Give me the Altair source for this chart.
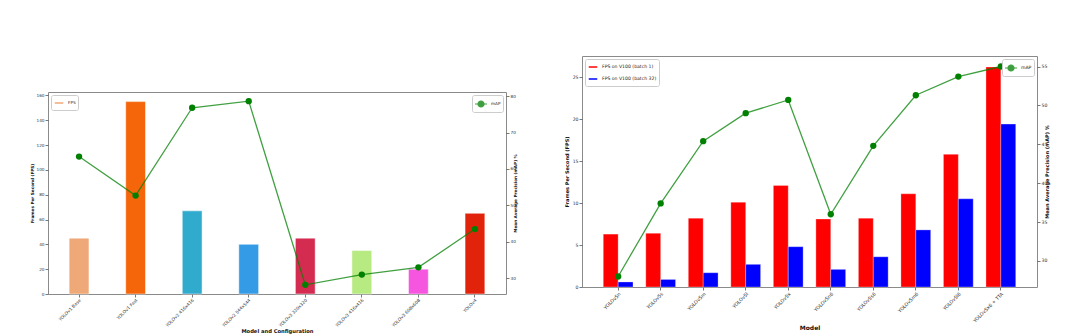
import altair as alt
import pandas as pd

# ---------------- data ----------------
left_models = ["YOLOv1 Base", "YOLOv1 Fast", "YOLOv2 416x416", "YOLOv2 544x544",
               "YOLOv3 320x320", "YOLOv3 416x416", "YOLOv3 608x608", "YOLOv4"]
left_fps = [45, 155, 67, 40, 45, 35, 20, 65]
left_map = [63.4, 52.7, 76.8, 78.6, 28.2, 31.0, 33.0, 43.5]
left_colors = ["#EFA877", "#F5650A", "#30AACD", "#349BE6",
               "#D42C50", "#B7EA80", "#F655DF", "#E2230C"]

v5_models = ["YOLOv5n", "YOLOv5s", "YOLOv5m", "YOLOv5l", "YOLOv5x",
             "YOLOv5n6", "YOLOv5s6", "YOLOv5m6", "YOLOv5l6", "YOLOv5x6 + TTA"]
v5_fps_b1 = [6.3, 6.4, 8.2, 10.1, 12.1, 8.1, 8.2, 11.1, 15.8, 26.2]
v5_fps_b32 = [0.6, 0.9, 1.7, 2.7, 4.8, 2.1, 3.6, 6.8, 10.5, 19.4]
v5_map = [28.0, 37.4, 45.4, 49.0, 50.7, 36.0, 44.8, 51.3, 53.7, 55.0]
series_names = ["FPS on V100 (batch 1)", "FPS on V100 (batch 32)"]
series_colors = ["#FF0000", "#0000FF"]

left_fps_ticks = [0, 20, 40, 60, 80, 100, 120, 140, 160]
left_map_ticks = [30, 40, 50, 60, 70, 80]
v5_fps_ticks = [0, 5, 10, 15, 20, 25]
v5_map_ticks = [30, 35, 40, 45, 50, 55]

FONT = "DejaVu Sans"
GREEN = "#008000"
BAR_SYMBOL = "M-1,-0.3H1V0.3H-1Z"
LINE_SYMBOL = "M-1,0H1M0.5,0A0.5,0.5,0,1,1,-0.5,0A0.5,0.5,0,1,1,0.5,0Z"


def mpl_range(vals):
    lo, hi = min(vals), max(vals)
    m = (hi - lo) * 0.05
    return [lo - m, hi + m]


def legend(orient, **kw):
    return alt.Legend(orient=orient, title=None, labelFont=FONT, labelColor="#222",
                      strokeColor="#cccccc", fillColor="white", cornerRadius=2,
                      padding=2, offset=3, rowPadding=1, symbolOffset=0, labelOffset=3,
                      **kw)


# ---------------- left panel ----------------
left_df = pd.DataFrame({"Model": left_models, "FPS": left_fps, "mAP": left_map})
left_df["Metric"] = "mAP"

lx = alt.X("Model:N", sort=left_models,
           scale=alt.Scale(paddingInner=0.65, paddingOuter=0.374),
           axis=alt.Axis(title="Model and Configuration", labelAngle=315, labelAlign="right",
                         labelBaseline="top", labelFontSize=4.4, titleFontSize=5.2,
                         titleY=36, titleBaseline="middle", labelPadding=1))

left_bars = alt.Chart(left_df).mark_bar(stroke="white", strokeWidth=0.8, strokeOpacity=0.6).encode(
    x=lx,
    y=alt.Y("FPS:Q", scale=alt.Scale(domain=[0, max(left_fps) * 1.05], nice=False, zero=True),
            axis=alt.Axis(values=left_fps_ticks, title="Frames Per Second (FPS)",
                          labelFontSize=4.2, titleFontSize=4.2, titlePadding=2)),
    color=alt.Color("Model:N", sort=left_models,
                    scale=alt.Scale(domain=left_models, range=left_colors),
                    legend=legend("top-left", values=[left_models[0]], labelExpr="'FPS'",
                                  labelFontSize=4.2, symbolType=BAR_SYMBOL, symbolSize=100)),
)

left_line = alt.Chart(left_df).mark_line(
    opacity=0.75, strokeWidth=1.3,
    point=alt.OverlayMarkDef(filled=True, size=40, opacity=1)
).encode(
    x=lx,
    y=alt.Y("mAP:Q", scale=alt.Scale(domain=mpl_range(left_map), nice=False, zero=False),
            axis=alt.Axis(orient="right", values=left_map_ticks,
                          title="Mean Average Precision (mAP) %", titleAngle=270,
                          titleBaseline="bottom",
                          labelFontSize=4.2, titleFontSize=4.2, titlePadding=2)),
    color=alt.Color("Metric:N", scale=alt.Scale(domain=["mAP"], range=[GREEN]),
                    legend=legend("top-right", labelFontSize=4.2, symbolType=LINE_SYMBOL,
                                  symbolSize=144, symbolFillColor=GREEN, symbolStrokeWidth=1.2)),
)

left = alt.layer(left_bars, left_line).resolve_scale(
    y="independent", color="independent"
).properties(width=458, height=202)

spacer = alt.Chart(pd.DataFrame({"a": [0]})).mark_point(opacity=0).properties(
    width=10, height=34, view=alt.ViewBackground(stroke="transparent"))

# ---------------- right panel ----------------
rows = []
for m, a, b in zip(v5_models, v5_fps_b1, v5_fps_b32):
    rows.append({"Model": m, "Series": series_names[0], "FPS": a})
    rows.append({"Model": m, "Series": series_names[1], "FPS": b})
v5_bar_df = pd.DataFrame(rows)
v5_line_df = pd.DataFrame({"Model": v5_models, "mAP": v5_map})
v5_line_df["Metric"] = "mAP"

rx = alt.X("Model:N", sort=v5_models,
           scale=alt.Scale(paddingInner=0.3, paddingOuter=0.5),
           axis=alt.Axis(title="Model", labelAngle=315, labelAlign="right",
                         labelBaseline="top", labelFontSize=4.8, titleFontSize=6,
                         titleY=40, titleBaseline="middle", labelPadding=1))

right_bars = alt.Chart(v5_bar_df).mark_bar(stroke="white", strokeWidth=0.6, strokeOpacity=0.5).encode(
    x=rx,
    xOffset=alt.XOffset("Series:N", sort=series_names,
                        scale=alt.Scale(domain=series_names, paddingInner=0, paddingOuter=0)),
    y=alt.Y("FPS:Q", scale=alt.Scale(domain=[0, max(v5_fps_b1 + v5_fps_b32) * 1.05], nice=False),
            axis=alt.Axis(values=v5_fps_ticks, title="Frames Per Second (FPS)",
                          labelFontSize=4.6, titleFontSize=5, titlePadding=3)),
    color=alt.Color("Series:N", sort=series_names,
                    scale=alt.Scale(domain=series_names, range=series_colors),
                    legend=legend("top-left", labelFontSize=4.6, symbolType=BAR_SYMBOL,
                                  symbolSize=100)),
)

right_line = alt.Chart(v5_line_df).mark_line(
    opacity=0.75, strokeWidth=1.3,
    point=alt.OverlayMarkDef(filled=True, size=40, opacity=1)
).encode(
    x=rx,
    y=alt.Y("mAP:Q", scale=alt.Scale(domain=mpl_range(v5_map), nice=False, zero=False),
            axis=alt.Axis(orient="right", values=v5_map_ticks,
                          title="Mean Average Precision (mAP) %", titleAngle=270,
                          titleBaseline="bottom",
                          labelFontSize=4.6, titleFontSize=5, titlePadding=3)),
    color=alt.Color("Metric:N", scale=alt.Scale(domain=["mAP"], range=[GREEN]),
                    legend=legend("top-right", labelFontSize=4.6, symbolType=LINE_SYMBOL,
                                  symbolSize=144, symbolFillColor=GREEN, symbolStrokeWidth=1.2)),
)

right = alt.layer(right_bars, right_line).resolve_scale(
    y="independent", color="independent"
).properties(width=455, height=231)

# ---------------- compose ----------------
chart = alt.hconcat(
    alt.vconcat(spacer, left, spacing=0),
    right,
    spacing=44,
).resolve_scale(color="independent").properties(
    padding={"left": 29, "top": 55, "right": 0, "bottom": 0},
    background="white",
).configure(font=FONT).configure_view(
    stroke="#8a8a8a", strokeWidth=1
).configure_axis(
    domain=False, grid=False, tickSize=3, tickWidth=0.8, tickColor="#555",
    labelColor="#333", labelFont=FONT, titleFont=FONT, titleFontWeight="bold",
    titleColor="#111", labelPadding=1
)

chart.save("out.html", embed_options={"renderer": "svg", "actions": False})
